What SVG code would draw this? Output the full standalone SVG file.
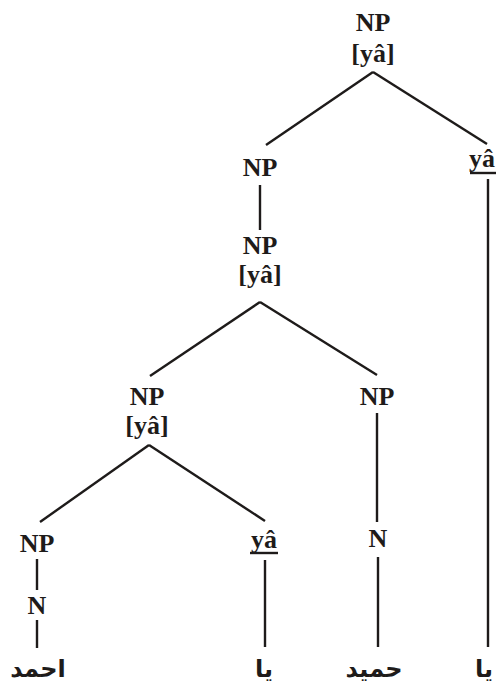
<svg xmlns="http://www.w3.org/2000/svg" width="496" height="683" viewBox="0 0 496 683">
  <style>
    .cat { font-family: "Liberation Serif", "Times New Roman", serif; font-size: 26px; font-weight: bold; fill: #1e1b1a; text-anchor: middle; }
    .feat { font-family: "Liberation Serif", "Times New Roman", serif; font-size: 26px; font-weight: bold; fill: #1e1b1a; text-anchor: middle; }
    .word { font-family: "DejaVu Sans", sans-serif; font-size: 24px; font-weight: bold; fill: #1e1b1a; text-anchor: middle; direction: rtl; }
    .edge { stroke: #1e1b1a; stroke-width: 2.4; fill: none; stroke-linecap: butt; }
  </style>
  <rect width="496" height="683" fill="#ffffff"/>

  <!-- tree edges -->
  <g id="connectors" class="edge">
    <line x1="373" y1="72" x2="266" y2="145"/>
    <line x1="373" y1="72" x2="487" y2="144"/>
    <line x1="260" y1="185" x2="260" y2="230"/>
    <line x1="260" y1="302" x2="150" y2="376"/>
    <line x1="260" y1="302" x2="377" y2="375"/>
    <line x1="149" y1="445" x2="40" y2="522"/>
    <line x1="149" y1="445" x2="265" y2="521"/>
    <line x1="377" y1="413" x2="377" y2="522"/>
    <line x1="378" y1="557" x2="378" y2="647"/>
    <line x1="37" y1="559" x2="37" y2="590"/>
    <line x1="37" y1="620" x2="37" y2="648"/>
    <line x1="265" y1="560" x2="265" y2="647"/>
    <line x1="488" y1="179" x2="488" y2="647"/>
  </g>

  <!-- root -->
  <g id="np-root">
    <text class="cat" x="373" y="31">NP</text>
    <text class="feat" x="373" y="62">[yâ]</text>
  </g>

  <g id="np-2">
    <text class="cat" x="260" y="176">NP</text>
  </g>

  <g id="ya-right">
    <text class="feat" x="482" y="167">yâ</text>
    <line class="edge" x1="470" y1="173" x2="496" y2="173"/>
  </g>

  <g id="np-3">
    <text class="cat" x="260" y="254">NP</text>
    <text class="feat" x="260" y="283">[yâ]</text>
  </g>

  <g id="np-4-left">
    <text class="cat" x="147" y="405">NP</text>
    <text class="feat" x="147" y="434">[yâ]</text>
  </g>

  <g id="np-4-right">
    <text class="cat" x="377" y="405">NP</text>
  </g>

  <g id="n-hamid">
    <text class="cat" x="378" y="547">N</text>
  </g>

  <g id="np-5-left">
    <text class="cat" x="37" y="552">NP</text>
  </g>

  <g id="n-ahmad">
    <text class="cat" x="37" y="614">N</text>
  </g>

  <g id="ya-left">
    <text class="feat" x="264" y="548">yâ</text>
    <line class="edge" x1="250" y1="553" x2="278" y2="553"/>
  </g>

  <!-- terminal words -->
  <g id="w-ahmad"><text class="word" x="38" y="677">احمد</text></g>
  <g id="w-ya-1"><text class="word" x="264" y="677">یا</text></g>
  <g id="w-hamid"><text class="word" x="374" y="677">حمید</text></g>
  <g id="w-ya-2"><text class="word" x="484" y="677">یا</text></g>
</svg>
